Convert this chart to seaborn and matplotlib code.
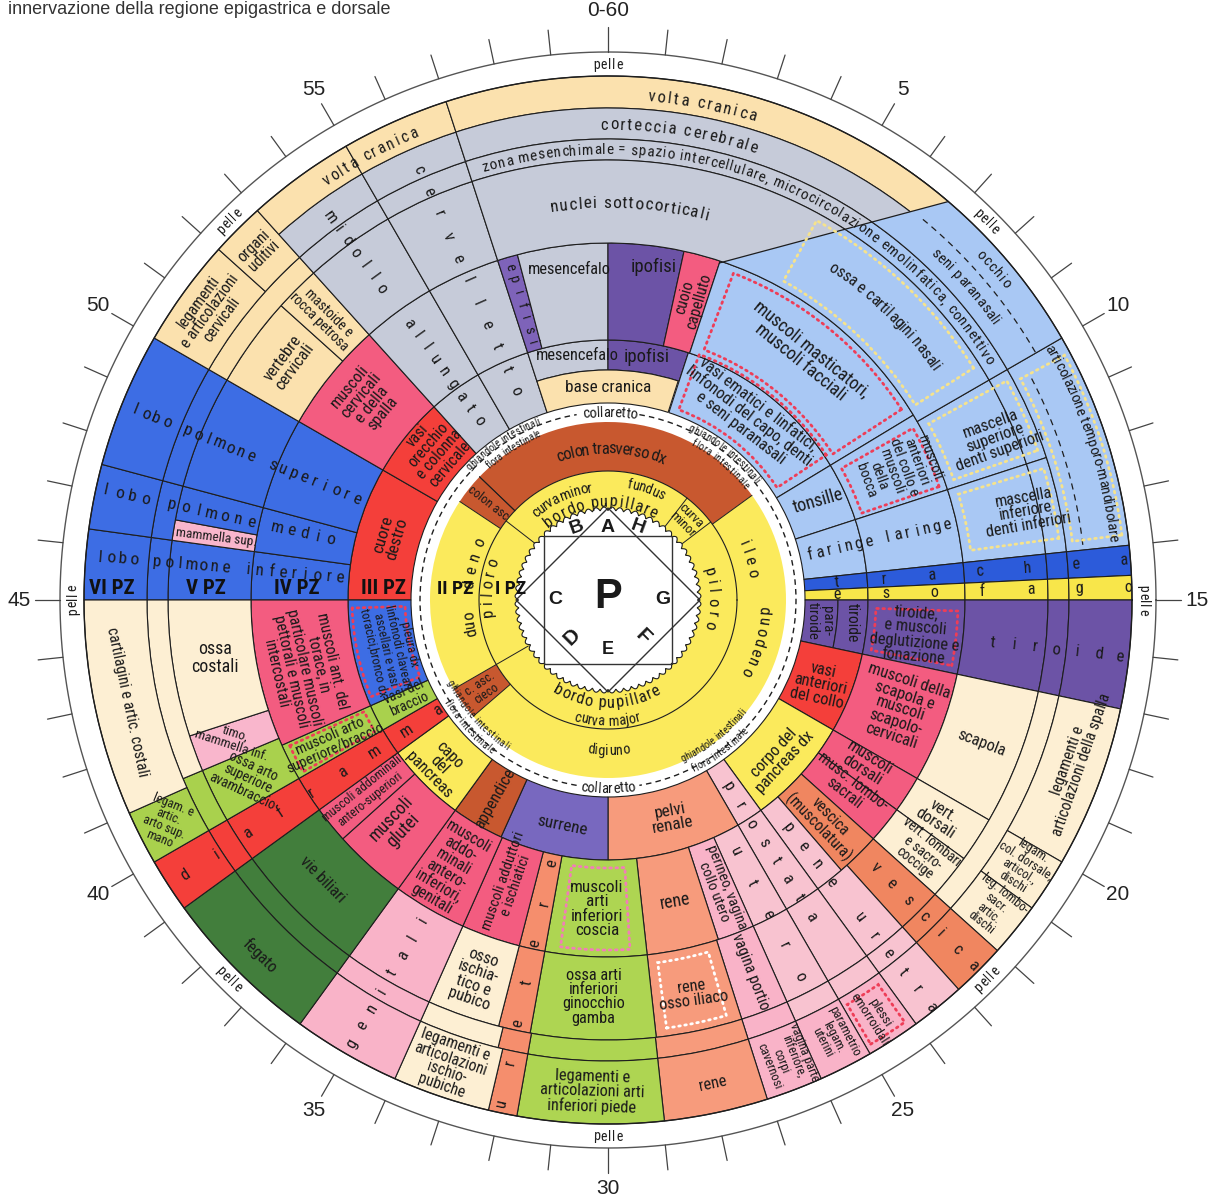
#!/usr/bin/env python3
"""Iridology map: innervazione della regione epigastrica e dorsale."""

import numpy as np
import matplotlib
matplotlib.use("Agg")
import matplotlib.pyplot as plt
import seaborn as sns
from matplotlib.patches import Wedge, Polygon, Rectangle
from matplotlib.font_manager import FontProperties, findfont, get_font, fontManager

sns.set_theme(style="white")

# pick the narrowest sans family that is installed
_names = {f.name for f in fontManager.ttflist}
NARROW, STRETCH = "Liberation Sans", "normal"
for _cand in ("Liberation Sans Narrow", "Roboto Condensed", "Open Sans Condensed", "Noto Sans Condensed"):
    if _cand in _names:
        NARROW = _cand
        break
else:
    for _fam in ("Liberation Sans", "Noto Sans", "DejaVu Sans", "Roboto", "Open Sans"):
        if any(f.name == _fam and str(f.stretch) in ("condensed", "semi-condensed")
               for f in fontManager.ttflist):
            NARROW, STRETCH = _fam, "condensed"
            break
REGULAR = "Liberation Sans" if "Liberation Sans" in _names else "DejaVu Sans"
plt.rcParams["font.family"] = [NARROW, "DejaVu Sans"]

# ---------------------------------------------------------------- data
TITLE = "innervazione della regione epigastrica e dorsale"
TICK_LABELS = ["0-60", "5", "10", "15", "20", "25", "30", "35", "40", "45", "50", "55"]
SKIN_MINUTES = [0, 7.5, 15, 22.5, 30, 37.5, 45, 52.5]

TISSUES = ["tan", "cream", "grey", "lblue", "blue", "trachea", "esofago", "red",
           "pinkred", "pink", "lpink", "mammella", "salmon", "orange", "ureter",
           "purple", "violet", "surrene", "yellow", "brown", "green", "lgreen", "dgreen"]
TISSUE_HEX = ["#FBE1AE", "#FDEFD3", "#C6CBD9", "#A9C8F4", "#3D6DE4", "#2C5BDA", "#F8E64A",
              "#F43F3A", "#F35C80", "#F9B3C8", "#F8C3D0", "#F9B6CC", "#F79B7C", "#F08660",
              "#F58E6D", "#6C53A6", "#7E63B9", "#7868BF", "#FBEA5C", "#C8582F", "#A9D14D",
              "#AED552", "#427E3C"]

# (band, minute start, minute end, tissue) -- minutes clockwise from the top
SECTORS_E = [
    ("E", 45, 50, "red"), ("E", 50, 53, "red"), ("E", 53, 55, "grey"), ("E", 55, 57, "grey"),
    ("E2", 57, 60, "grey"), ("E2", 60, 63, "purple"), ("E1", 57, 62.96, "tan"),
    ("E", 3, 9.8, "lblue"), ("E", 9.8, 12, "lblue"), ("E", 12, 14, "lblue"),
    ("E", 14, 14.55, "trachea"), ("E", 14.55, 15, "esofago"),
    ("E1", 15, 17, "purple"), ("E2", 15, 17, "purple"),
    ("E", 17, 20, "red"), ("E", 20, 24, "yellow"), ("E", 24, 25, "lpink"), ("E", 25, 30, "salmon"),
    ("E", 30, 34.05, "surrene"), ("E", 34.05, 36, "brown"), ("E", 36, 39, "yellow"),
    ("E", 39, 40, "red"), ("E", 40, 41, "green"), ("E", 41, 45, "blue"),
]
SECTORS_D = [
    ("D", 45, 46.3, "blue"), ("D", 46.3, 47.5, "blue"), ("D", 47.5, 50, "blue"),
    ("D", 50, 53, "pinkred"), ("D", 53, 55, "grey"), ("D", 55, 57, "grey"),
    ("D", 57, 57.55, "violet"), ("D", 57.55, 60, "grey"), ("D", 60, 62.05, "purple"),
    ("D", 62.05, 63.05, "pinkred"), ("D", 3.05, 9.8, "lblue"), ("D", 9.8, 12, "lblue"),
    ("D", 12, 14, "lblue"), ("D", 14, 14.55, "trachea"), ("D", 14.55, 15, "esofago"),
    ("D", 15, 17, "purple"), ("D", 17, 20, "pinkred"), ("D", 20, 21, "pinkred"),
    ("D", 21, 22, "pinkred"), ("D", 22, 23.2, "orange"), ("D", 23.2, 24, "lpink"),
    ("D", 24, 25, "lpink"), ("D", 25, 26, "lpink"), ("D", 26, 27, "pink"),
    ("D", 27, 28.95, "salmon"), ("D", 28.95, 31.7, "lgreen"), ("D", 31.7, 32.4, "ureter"),
    ("D", 32.4, 34, "pinkred"), ("D", 34, 36, "pinkred"), ("D", 36, 38, "pinkred"),
    ("D", 38, 39, "pinkred"), ("D", 39, 40, "red"), ("D", 40, 41, "green"), ("D", 41, 45, "pinkred"),
]
SECTORS_C = [
    ("C", 45, 46.3, "blue"), ("C", 46.3, 46.75, "mammella"), ("C", 46.75, 47.5, "blue"),
    ("C", 47.5, 50, "blue"), ("C", 50, 52, "tan"), ("C", 52, 53, "tan"),
    ("C", 53, 55, "grey"), ("C", 55, 57, "grey"), ("C", 10, 12, "lblue"), ("C", 12, 14, "lblue"),
    ("C", 14, 14.55, "trachea"), ("C", 14.55, 15, "esofago"), ("C", 15, 17, "purple"),
    ("C", 17, 20, "cream"), ("C", 20, 21, "cream"), ("C", 21, 22, "cream"), ("C", 22, 23, "orange"),
    ("C", 23, 24, "lpink"), ("C", 24, 25, "lpink"), ("C", 25, 26, "lpink"), ("C", 26, 27.05, "pink"),
    ("C", 27.05, 28.95, "salmon"), ("C", 28.95, 31.7, "lgreen"), ("C", 31.7, 32.4, "ureter"),
    ("C", 32.4, 34, "cream"), ("C", 34, 36, "pink"), ("C", 36, 39, "dgreen"), ("C", 39, 40, "red"),
    ("C", 40, 41.2, "green"), ("C", 41.2, 42, "mammella"), ("C", 42, 45, "cream"),
]
SECTORS_B = [
    ("B", 45, 46.3, "blue"), ("B", 46.3, 47.5, "blue"), ("B", 47.5, 50, "blue"), ("B", 50, 53, "tan"),
    ("B", 53, 55, "grey"), ("B", 55, 57, "grey"), ("B", 10, 12, "lblue"), ("B", 12, 14, "lblue"),
    ("B", 14, 14.55, "trachea"), ("B", 14.55, 15, "esofago"), ("B", 15, 17, "purple"),
    ("B", 17, 22, "cream"), ("B", 22, 23, "orange"), ("B", 23, 24, "lpink"), ("B", 24, 25, "lpink"),
    ("B", 25, 26, "lpink"), ("B", 26, 27.05, "pink"), ("B", 27.05, 28.97, "salmon"),
    ("B", 28.97, 31.67, "lgreen"), ("B", 31.67, 32.3, "ureter"), ("B", 32.3, 34, "cream"),
    ("B", 34, 36, "pink"), ("B", 36, 39, "dgreen"), ("B", 39, 40, "red"), ("B", 40, 41.2, "green"),
    ("B", 41.2, 45, "cream"),
]
SECTORS_A = [
    ("A", 45, 46.3, "blue"), ("A", 46.3, 47.5, "blue"), ("A", 47.5, 50, "blue"),
    ("A", 50, 52, "tan"), ("A", 52, 53, "tan"), ("A1", 53, 55, "grey"), ("A1", 55, 57, "grey"),
    ("A2", 53, 55, "tan"), ("A2", 55, 57, "tan"), ("A", 10, 14, "lblue"),
    ("A", 14, 14.55, "trachea"), ("A", 14.55, 15, "esofago"), ("A", 15, 17, "purple"),
    ("A", 17, 20, "cream"), ("A", 20, 21, "cream"), ("A", 21, 22, "cream"), ("A", 22, 23, "orange"),
    ("A", 23, 24, "lpink"), ("A", 24, 25, "pink"), ("A", 25, 26, "pink"), ("A", 26, 27.05, "pink"),
    ("A", 27.05, 28.97, "salmon"), ("A", 28.97, 31.67, "lgreen"), ("A", 31.67, 32.2, "ureter"),
    ("A", 32.2, 34, "cream"), ("A", 34, 36, "pink"), ("A", 36, 39, "dgreen"), ("A", 39, 40, "red"),
    ("A", 40, 41, "green"), ("A", 41, 45, "cream"),
]
# light-blue face area lying under the straight boundary line
SECTORS_FACE = [("C", 3.05, 10, "lblue"), ("B", 5.0, 10, "lblue"), ("A", 5.5, 10, "lblue")]
# brain / skull sectors cut by that line
SECTORS_BRAIN = [("A2", 57, 67, "tan"), ("A1", 57, 67, "grey"), ("B", 57, 70, "grey"),
                 ("C", 57, 66, "grey")]
FACE_LINE = [(3.05, 355), (6.75, 524)]  # (minute, radius) ends of the boundary

IRIS_INNER = [(40, 51.3, "yellow"), (51.3, 66.3, "yellow"), (66.3, 68.8, "yellow"), (8.8, 40, "yellow")]
IRIS_OUTER = [(50.6, 52.3, "brown"), (52.3, 69, "brown"), (9, 38.2, "yellow"),
              (38.2, 40, "brown"), (40, 50.6, "yellow")]

# straight labels: text, minute, radius, rotation ('tan' / 'rad' / degrees), size
LABELS = [
    ("legamenti\ne articolazioni\ncervicali", 51.0, 492, "tan", 10.5),
    ("organi\nuditivi", 52.5, 494, "tan", 10.5),
    ("legamenti e\narticolazioni della spalla", 18.2, 494, "tan", 10.5),
    ("legam.\ncol. dorsale,\narticol.,\ndischi", 20.45, 493, "rad", 8.5),
    ("leg. lombo-\nsacr.\nartic.\ndischi", 21.45, 493, "rad", 8.5),
    ("plessi\nemorroidali", 24.55, 494, "rad", 9),
    ("parametrio\nlegam.\nuterini", 25.45, 492, "rad", 8.5),
    ("vagina parte\ninferiore,\ncorpi\ncavernosi", 26.45, 493, "rad", 8.5),
    ("rene", 27.97, 495, "tan", 11),
    ("legamenti e\narticolazioni arti\ninferiori piede", 30.3, 492, "tan", 11),
    ("legamenti e\narticolazioni\nischio-\npubiche", 33.15, 492, "tan", 10.5),
    ("fegato", 37.4, 498, "tan", 11),
    ("legam. e\nartic.\narto sup.\nmano", 40.55, 494, -22, 8.5),
    ("cartilagini e artic. costali", 43.0, 492, "tan", 10.5),
    ("vertebre\ncervicali", 51.1, 398, "tan", 11),
    ("mastoide e\nrocca petrosa", 52.47, 401, "rad", 9.5),
    ("mascella\nsuperiore\ndenti superiori", 11.2, 420, 20, 11),
    ("mascella\ninferiore\ndenti inferiori", 13.0, 427, 10, 11),
    ("scapola", 18.5, 400, "rad", 11),
    ("vert.\ndorsali", 20.55, 396, "rad", 11),
    ("vert. lombari\ne sacro-\ncoccige", 21.45, 404, "rad", 9.5),
    ("vagina portio", 26.5, 398, "rad", 10.5),
    ("rene\nosso iliaco", 27.98, 403, 8, 11),
    ("ossa arti\ninferiori\nginocchio\ngamba", 30.35, 397, 0, 11),
    ("osso\nischia-\ntico e\npubico", 33.2, 401, "tan", 11),
    ("vie biliari", 37.6, 399, "tan", 11),
    ("ossa arto\nsuperiore\navambraccio", 40.6, 402, -25, 9.5),
    ("timo,\nmammella inf.", 41.6, 400, -18, 9),
    ("ossa\ncostali", 43.6, 397, 0, 12),
    ("mammella sup.", 46.52, 397, -7, 9),
    ("mesencefalo", 58.9, 333, 0, 11),
    ("ipofisi", 1.3, 336, 0, 12.5),
    ("cuoio\ncapelluto", 2.6, 312, 74, 10.5),
    ("muscoli masticatori,\nmuscoli facciali", 6.5, 314, "tan", 12),
    ("muscoli\nanteriori\ndel collo e\nmuscoli\ndella\nbocca", 10.95, 318, -70, 10),
    ("tiroide,\ne muscoli\ndeglutizione e\nfonazione", 16.08, 309, -5, 11),
    ("muscoli della\nscapola e\nmuscoli\nscapolo-\ncervicali", 18.4, 312, -18, 11),
    ("muscoli\ndorsali", 20.4, 306, "rad", 11),
    ("musc. lombo-\nsacrali", 21.3, 305, "rad", 10.5),
    ("vescica\n(muscolatura)", 22.65, 310, "rad", 10.5),
    ("perineo, vagina\ncollo utero", 26.47, 310, "rad", 10),
    ("rene", 27.9, 309, 10, 12),
    ("muscoli\narti\ninferiori\ncoscia", 30.34, 309, 0, 11.5),
    ("muscoli adduttori\ne ischiatici", 33.2, 300, "rad", 10),
    ("muscoli\naddo-\nminali\nantero-\ninferiori,\ngenitali", 35.1, 311, "tan", 10.5),
    ("muscoli\nglutei", 37.2, 308, "rad", 12),
    ("muscoli addominali\nantero-superiori", 38.55, 310, "rad", 8.5),
    ("muscoli arto\nsuperiore/braccio", 40.45, 310, 24, 10),
    ("muscoli ant. del\ntorace, in\nparticolare muscoli\npettorali e muscoli\nintercostali", 42.9, 311, "tan", 10.5),
    ("muscoli\ncervicali\ne della\nspalla", 51.6, 314, "tan", 11),
    ("mesencefalo", 58.8, 246, 0, 11),
    ("ipofisi", 1.5, 246, 0, 12.5),
    ("base cranica", 0.0, 213, 0, 11.5),
    ("vasi ematici e linfatici,\nlinfonodi del capo, denti\ne seni paranasali", 6.25, 232, "tan", 11),
    ("tonsille", 10.8, 232, 16, 12),
    ("para-\ntiroide", 15.95, 213, -90, 10),
    ("tiroide", 15.9, 245, -90, 10.5),
    ("vasi\nanteriori\ndel collo", 18.6, 228, -12, 11),
    ("corpo del\npancreas dx", 22.1, 233, "tan", 11),
    ("pelvi\nrenale", 27.3, 227, 10, 11.5),
    ("surrene", 31.9, 230, "tan", 11.5),
    ("appendice", 34.95, 228, "rad", 11),
    ("capo\ndel\npancreas", 37.6, 236, "tan", 11),
    ("vasi del\nbraccio", 40.7, 224, 24, 9.5),
    ("pleura dx\nlinfonodi claveari\nascellari e vasi\ntoracici,bronco dx", 42.9, 222, "tan", 8.5),
    ("cuore\ndestro", 47.7, 227, "tan", 11.5),
    ("vasi\norecchio\ne colonna\ncervicale", 51.8, 230, "tan", 10.5),
    ("colon asc", 51.5, 154, -38, 8.5),
    ("c. asc.\ncieco", 39.1, 153, 34, 8.5),
    ("curva\nminor", 7.4, 112, -45, 9),
]
LABEL_SCALE = 1.07

# curved labels: text, minute where reading starts, minute where it ends, radius, size
ARCS = [
    ("volta cranica", 54.3, 56.3, 506, 11.5),
    ("volta cranica", 60.75, 62.85, 506, 12),
    ("corteccia cerebrale", 59.85, 63.05, 476, 12),
    ("zona mesenchimale = spazio intercellulare, microcircolazione emolinfatica, connettivo",
     57.3, 69.7, 451, 11),
    ("nuclei sottocorticali", 58.6, 62.45, 398, 12.5),
    ("seni paranasali", 7.15, 9.1, 478, 11),
    ("occhio", 7.8, 8.65, 509, 11),
    ("ossa e cartilagini nasali", 5.6, 9.15, 402, 11.5),
    ("articolazione temporo-mandibolare", 10.0, 13.9, 509, 11),
    ("colon trasverso dx", 56.7, 63.7, 152, 12),
    ("curva minor", 53.1, 58.6, 114, 11),
    ("fundus", 1.6, 4.7, 118, 11.5),
    ("bordo pupillare", 53.4, 64.9, 99, 12),
    ("ileo", 11.1, 13.5, 148, 12),
    ("piloro", 12.0, 17.7, 106, 12),
    ("duodeno", 15.4, 19.8, 157, 12),
    ("digiuno", 31.3, 28.6, 150, 12),
    ("curva major", 32.7, 27.5, 121, 11.5),
    ("bordo pupillare", 35.3, 25.0, 102, 12),
    ("piloro", 43.7, 48.3, 122, 12),
    ("duo", 42.5, 44.2, 141, 12),
    ("deno", 45.8, 49.3, 141, 12),
    ("collaretto", 58.7, 61.5, 188, 10.5),
    ("collaretto", 31.4, 28.6, 188, 10.5),
    ("ghiandole intestinali", 52.2, 56.5, 192, 7.5), ("flora intestinale", 52.95, 56.3, 180, 7.5),
    ("ghiandole intestinali", 4.2, 8.6, 191, 7.5), ("flora intestinale", 4.7, 8.5, 179, 7.5),
    ("ghiandole intestinali", 40.5, 35.7, 178, 7.5), ("flora intestinale", 39.7, 36.2, 190, 7.5),
    ("ghiandole intestinali", 25.9, 21.5, 175, 7.5), ("flora intestinale", 25.6, 22.15, 189, 7.5),
]

# spaced letters along a ray: text, minute, first radius, last radius, size
RAYS = [
    ("midollo", 54.0, 473, 385, 12), ("allungato", 54.05, 341, 221, 12),
    ("cervelletto", 56.05, 470, 228, 12), ("epifisi", 57.28, 347, 268, 10.5),
    ("lobo polmone superiore", 48.65, 510, 271, 12.5),
    ("lobo polmone medio", 47.05, 514, 284, 12.5),
    ("lobo polmone inferiore", 45.8, 510, 269, 12.5),
    ("faringe laringe", 12.9, 207, 347, 12), ("trachea", 14.27, 229, 517, 11.5),
    ("esofago", 14.77, 229, 520, 11.5), ("tiroide", 16.05, 387, 515, 12),
    ("vescica", 22.5, 378, 517, 12), ("pene uretra", 23.6, 291, 520, 12),
    ("prostata", 24.55, 222, 376, 12), ("utero", 25.5, 282, 423, 12),
    ("uretere", 32.0, 514, 269, 12), ("genitali", 35.0, 512, 370, 12),
    ("diaframma", 39.5, 504, 203, 12),
]

ZONES = ["VI PZ", "V PZ", "IV PZ", "III PZ", "II PZ", "I PZ"]
ZONE_RADII = [496, 402, 311, 225, 153, 97]

PUPIL_LETTERS = [("A", 0, 73, 0, 14), ("B", -31, 73, 20, 14), ("H", 30, 73, -20, 14),
                 ("C", -53, 0, 0, 14), ("G", 55, 0, 0, 14), ("D", -36, -37, 45, 15),
                 ("E", 0, -50, 0, 13), ("F", 35, -37, -45, 15), ("P", 0, 3, 0, 30)]

# dotted frames: minute start, minute end, inner radius, outer radius, colour
DOTTED = [
    (3.4, 9.4, 203, 262, "#EE3D57"), (3.5, 9.5, 268, 350, "#EE3D57"),
    (4.8, 9.6, 364, 433, "#F6E38C"), (10.2, 11.8, 366, 455, "#F6E38C"),
    (12.2, 13.7, 366, 455, "#F6E38C"), (10.3, 13.8, 468, 518, "#F6E38C"),
    (10.1, 11.85, 268, 350, "#EE3D57"), (15.3, 16.8, 268, 350, "#EE3D57"),
    (24.15, 24.9, 470, 516, "#EE3D57"), (29.4, 31.3, 268, 350, "#F27DB8"),
    (27.35, 28.7, 366, 432, "#FFFFFF"), (40.1, 40.9, 268, 350, "#EE3D57"),
    (41.3, 44.7, 203, 256, "#EE3D57"),
]

# ---------------------------------------------------------------- geometry
W, H, DPI = 1225, 1201, 100
PX = DPI / 72.0
CX, CY = 608, 601
BANDS = {"E1": (197, 230), "E2": (230, 260), "E": (197, 260), "D": (260, 357),
         "C": (357, 440), "B": (440, 461), "A1": (461, 492), "A2": (492, 524), "A": (461, 524)}
R_PUPIL, R_STOMACH, R_IRIS, R_COLLAR, R_OUT, R_SKIN = 92, 129, 178, 188, 524, 548
EDGE = "#1e1e1e"
INK = "#1a1a1a"
PALETTE = dict(zip(TISSUES, sns.color_palette(TISSUE_HEX)))


def pol(m, r):
    th = np.radians(90.0 - 6.0 * m)
    return CX + r * np.cos(th), CY + r * np.sin(th)


def upright(a):
    a = (a + 180) % 360 - 180
    if a > 90:
        a -= 180
    elif a < -90:
        a += 180
    return a


def tan_rot(m):
    return upright(-6.0 * m)


def rad_rot(m):
    return upright(90 - 6.0 * m)


def wedge(ax, m1, m2, r1, r2, face, edge=EDGE, lw=0.8, z=1, ls="-"):
    w = Wedge((CX, CY), r2, 90 - 6 * m2, 90 - 6 * m1, width=r2 - r1, facecolor=face,
              edgecolor=edge, linewidth=lw, zorder=z, linestyle=ls)
    ax.add_patch(w)
    return w


def fprop(size, weight="normal", family=None):
    if family is None:
        return FontProperties(family=[NARROW, "DejaVu Sans"], stretch=STRETCH,
                              size=size, weight=weight)
    return FontProperties(family=family, size=size, weight=weight)


def advances(text, prop):
    font = get_font(findfont(prop))
    font.set_size(prop.get_size_in_points(), 72)
    return [font.load_char(ord(ch)).linearHoriAdvance / 65536.0 * PX for ch in text]


def arc_text(ax, text, m_a, m_b, r, size, family=None):
    """Letters laid along an arc, spread to fill minutes m_a -> m_b (reading order)."""
    cw = m_b > m_a
    m_c = (m_a + m_b) / 2
    target = np.radians(abs(m_b - m_a) * 6) * r
    prop = fprop(size, family=family)
    adv = advances(text, prop)
    track = (target - sum(adv)) / max(len(text) - 1, 1)
    if track < -0.6:
        size = size * target / sum(adv)
        prop = fprop(size, family=family)
        adv = advances(text, prop)
        track = (target - sum(adv)) / max(len(text) - 1, 1)
    total = sum(adv) + track * (len(text) - 1)
    shift = 0.33 * size * PX
    rb = r - shift if cw else r + shift
    s = -total / 2
    for ch, a in zip(text, adv):
        mid = s + a / 2
        s += a + track
        if ch == " ":
            continue
        dm = np.degrees(mid / r) / 6.0
        m = m_c + dm if cw else m_c - dm
        x, y = pol(m, rb)
        rot = -6 * m if cw else 180 - 6 * m
        ax.text(x, y, ch, fontproperties=prop, color=INK, rotation=rot,
                rotation_mode="anchor", ha="center", va="baseline", zorder=6)


def ray_text(ax, text, m, r1, r2, size):
    prop = fprop(size)
    rot = rad_rot(m)
    for ch, r in zip(text, np.linspace(r1, r2, len(text))):
        if ch == " ":
            continue
        x, y = pol(m, r)
        ax.text(x, y, ch, fontproperties=prop, color=INK, rotation=rot,
                rotation_mode="anchor", ha="center", va="center", zorder=6)


def draw_sectors(ax, sectors, clip=None):
    for band, m1, m2, tissue in sectors:
        r1, r2 = BANDS[band]
        w = wedge(ax, m1, m2, r1, r2, PALETTE[tissue])
        if clip is not None:
            w.set_clip_path(clip)


def main():
    fig = plt.figure(figsize=(W / DPI, H / DPI), dpi=DPI)
    ax = fig.add_axes([0, 0, 1, 1])
    ax.set_xlim(0, W)
    ax.set_ylim(0, H)
    ax.axis("off")

    # outer rings
    for sectors in (SECTORS_E, SECTORS_D, SECTORS_C, SECTORS_B, SECTORS_A, SECTORS_FACE):
        draw_sectors(ax, sectors)

    # brain sectors end at the straight line towards the face
    (x1, y1), (x2, y2) = pol(*FACE_LINE[0]), pol(*FACE_LINE[1])
    slope = (y2 - y1) / (x2 - x1)
    x0 = x1 - 8
    clip = Polygon([(-50, -50), (x0, -50), (x0, y1 + slope * (x0 - x1)),
                    (W + 80, y1 + slope * (W + 80 - x1)), (W + 80, H + 80), (-50, H + 80)],
                   closed=True, transform=ax.transData)
    draw_sectors(ax, SECTORS_BRAIN, clip=clip)
    ax.plot([x1, x2], [y1, y2], color=EDGE, lw=0.9, zorder=2)

    # dashed partitions inside the face area
    mm = np.linspace(6.6, 10, 60)
    ax.plot(*pol(mm, 494), color=EDGE, lw=0.9, ls=(0, (5, 4)), zorder=2)
    mm = np.linspace(10.4, 13.9, 60)
    ax.plot(*pol(mm, 478), color=EDGE, lw=0.9, ls=(0, (5, 4)), zorder=2)

    # dotted frames
    for m1, m2, r1, r2, col in DOTTED:
        w = wedge(ax, m1, m2, r1, r2, "none", edge=col, lw=2.0, z=3, ls=(0, (0.6, 1.6)))
        w.set_capstyle("round")

    # iris (stomach and intestine rings)
    for m1, m2, t in IRIS_OUTER:
        wedge(ax, m1, m2, R_STOMACH, R_IRIS, PALETTE[t], edge="none", lw=0)
    for m1, m2, t in IRIS_INNER:
        wedge(ax, m1, m2, R_PUPIL - 4, R_STOMACH, PALETTE[t], edge="none", lw=0)
    th = np.linspace(0, 2 * np.pi, 721)
    ax.plot(CX + R_STOMACH * np.cos(th), CY + R_STOMACH * np.sin(th), color=EDGE, lw=0.8, zorder=2)
    for m1, m2, t in IRIS_OUTER:
        if t == "brown":
            for m in (m1, m2):
                xa, ya = pol(m, R_STOMACH)
                xb, yb = pol(m, R_IRIS)
                ax.plot([xa, xb], [ya, yb], color=EDGE, lw=0.7, zorder=2)
    for m in (51.3, 6.3, 8.8, 40):
        xa, ya = pol(m, R_PUPIL)
        xb, yb = pol(m, R_STOMACH)
        ax.plot([xa, xb], [ya, yb], color=EDGE, lw=0.7, zorder=2)

    # collaretto (dashed circle with gaps for the labels)
    for a, b in ((1.6, 28.4), (31.6, 58.4)):
        mm = np.linspace(a, b, 400)
        ax.plot(*pol(mm, R_COLLAR), color=EDGE, lw=1.0, ls=(0, (4, 3)), zorder=2)

    # pupil with scalloped border
    phi = np.linspace(0, 2 * np.pi, 1441)
    rr = R_PUPIL - 2.5 + 3.5 * np.abs(np.sin(36 * phi))
    ax.add_patch(Polygon(np.column_stack([CX + rr * np.cos(phi), CY + rr * np.sin(phi)]),
                         closed=True, facecolor="white", edgecolor=EDGE, lw=0.8, zorder=3))
    ax.add_patch(Rectangle((CX - 64, CY - 64), 128, 128, fill=False, edgecolor="#333", lw=1.0, zorder=4))
    ax.add_patch(Polygon([(CX, CY + R_PUPIL), (CX + R_PUPIL, CY), (CX, CY - R_PUPIL),
                          (CX - R_PUPIL, CY)], closed=True, fill=False, edgecolor="#333",
                         lw=1.0, zorder=4))
    for ch, dx, dy, rot, size in PUPIL_LETTERS:
        ax.text(CX + dx, CY + dy, ch, fontproperties=fprop(size, "bold", [REGULAR, "DejaVu Sans"]),
                color=INK, rotation=rot, ha="center", va="center", zorder=6)

    # rim: colour edge, skin band, minute ticks
    ax.plot(CX + R_OUT * np.cos(th), CY + R_OUT * np.sin(th), color=EDGE, lw=1.0, zorder=2)
    ax.plot(CX + R_SKIN * np.cos(th), CY + R_SKIN * np.sin(th), color="#555", lw=1.0, zorder=2)
    for k in range(60):
        xa, ya = pol(k, R_SKIN)
        xb, yb = pol(k, R_SKIN + 25)
        ax.plot([xa, xb], [ya, yb], color="#444", lw=0.9, zorder=2)
    for k, lab in enumerate(TICK_LABELS):
        x, y = pol(5 * k, 589)
        ax.text(x, y, lab, fontproperties=fprop(15, family=[REGULAR, "DejaVu Sans"]),
                color="#222", ha="center", va="center")
    for m in SKIN_MINUTES:
        if 15 < m < 45:
            arc_text(ax, "pelle", m + 0.27, m - 0.27, 536, 10)
        else:
            arc_text(ax, "pelle", m - 0.27, m + 0.27, 536, 10)

    # labels
    for text, m, r, rot, size in LABELS:
        if rot == "tan":
            rot = tan_rot(m)
        elif rot == "rad":
            rot = rad_rot(m)
        x, y = pol(m, r)
        ax.text(x, y, text, fontproperties=fprop(size * LABEL_SCALE), color=INK, rotation=rot,
                rotation_mode="anchor", ha="center", va="center", multialignment="center",
                linespacing=0.95, zorder=6)
    for text, m_a, m_b, r, size in ARCS:
        arc_text(ax, text, m_a, m_b, r, size)
    for text, m, r1, r2, size in RAYS:
        ray_text(ax, text, m, r1, r2, size)
    for lab, r in zip(ZONES, ZONE_RADII):
        size = 15 if r > 200 else 14
        ax.text(CX - r, CY + 11, lab, fontproperties=fprop(size, "bold"), color="#111",
                ha="center", va="center", zorder=6)

    ax.text(8, H - 10, TITLE, fontproperties=fprop(13, family=[REGULAR, "DejaVu Sans"]),
            color="#333", ha="left", va="center")

    fig.savefig("out.png", dpi=DPI)
    plt.close(fig)


if __name__ == "__main__":
    main()
